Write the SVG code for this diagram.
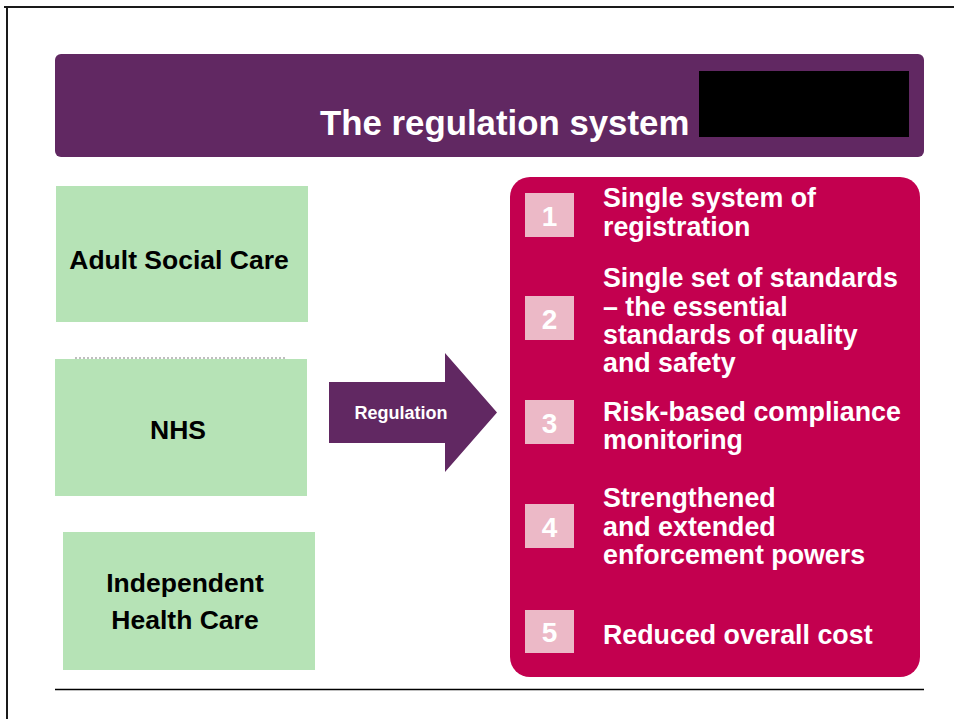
<svg xmlns="http://www.w3.org/2000/svg" width="954" height="719" viewBox="0 0 954 719">
  <style>
    .sector { fill: #b6e3b6; }
    .sector-label { font-family: "Liberation Sans", Arial, sans-serif; font-weight: bold; font-size: 26.5px; fill: #000; text-anchor: middle; }
    .num-box { fill: #ecb9c7; }
    .num { font-family: "Liberation Sans", Arial, sans-serif; font-weight: bold; font-size: 28px; fill: #fff; text-anchor: middle; }
    .item { font-family: "Liberation Sans", Arial, sans-serif; font-weight: bold; font-size: 26.8px; fill: #fff; }
  </style>

  <rect width="954" height="719" fill="#fff"/>

  <!-- page frame -->
  <g id="frame" fill="none" stroke="#1a1a1a" stroke-width="2">
    <line x1="4" y1="7" x2="954" y2="7"/>
    <line x1="7" y1="7" x2="7" y2="719"/>
  </g>

  <!-- title banner -->
  <g id="title">
    <rect x="55" y="54" width="869" height="103" rx="6" fill="#612862"/>
    <rect x="699" y="71" width="210" height="66" fill="#000"/>
    <text x="320" y="135" font-family="Liberation Sans, Arial, sans-serif" font-weight="bold" font-size="34.8" fill="#fff">The regulation system</text>
  </g>

  <!-- sectors being regulated -->
  <g id="adult-social-care">
    <rect class="sector" x="56" y="186" width="252" height="136"/>
    <text class="sector-label" x="179" y="269">Adult Social Care</text>
  </g>

  <line x1="75" y1="358" x2="287" y2="358" stroke="#aaa" stroke-width="1.5" stroke-dasharray="2 2"/>

  <g id="nhs">
    <rect class="sector" x="55" y="359" width="252" height="137"/>
    <text class="sector-label" x="178" y="439">NHS</text>
  </g>

  <g id="independent-health-care">
    <rect class="sector" x="63" y="532" width="252" height="138"/>
    <text class="sector-label" x="185" y="592">Independent</text>
    <text class="sector-label" x="185" y="629">Health Care</text>
  </g>

  <!-- regulation arrow -->
  <g id="connectors">
    <g id="regulation-arrow">
      <polygon points="329,382 445,382 445,353 497,412.5 445,472 445,443 329,443" fill="#612862"/>
      <text x="401" y="419" font-family="Liberation Sans, Arial, sans-serif" font-weight="bold" font-size="18" fill="#fff" text-anchor="middle">Regulation</text>
    </g>
  </g>

  <!-- outcomes panel -->
  <g id="outcomes">
    <rect x="510" y="177" width="410" height="500" rx="20" fill="#c3004f"/>

    <g id="item-1">
      <rect class="num-box" x="525" y="193" width="49" height="44"/>
      <text class="num" x="549.5" y="225.5">1</text>
      <text class="item" x="603" y="207">Single system of</text>
      <text class="item" x="603" y="235.5">registration</text>
    </g>

    <g id="item-2">
      <rect class="num-box" x="525" y="296" width="49" height="44"/>
      <text class="num" x="549.5" y="328.5">2</text>
      <text class="item" x="603" y="287">Single set of standards</text>
      <text class="item" x="603" y="315.5">– the essential</text>
      <text class="item" x="603" y="344">standards of quality</text>
      <text class="item" x="603" y="372">and safety</text>
    </g>

    <g id="item-3">
      <rect class="num-box" x="525" y="400" width="49" height="44"/>
      <text class="num" x="549.5" y="432.5">3</text>
      <text class="item" x="603" y="420.5">Risk-based compliance</text>
      <text class="item" x="603" y="449">monitoring</text>
    </g>

    <g id="item-4">
      <rect class="num-box" x="525" y="504" width="49" height="44"/>
      <text class="num" x="549.5" y="536.5">4</text>
      <text class="item" x="603" y="507">Strengthened</text>
      <text class="item" x="603" y="535.5">and extended</text>
      <text class="item" x="603" y="564">enforcement powers</text>
    </g>

    <g id="item-5">
      <rect class="num-box" x="525" y="610" width="49" height="43"/>
      <text class="num" x="549.5" y="642">5</text>
      <text class="item" x="603" y="643.5">Reduced overall cost</text>
    </g>
  </g>

  <!-- footer rule -->
  <line x1="55" y1="689.5" x2="924" y2="689.5" stroke="#000" stroke-width="1.5"/>
</svg>
